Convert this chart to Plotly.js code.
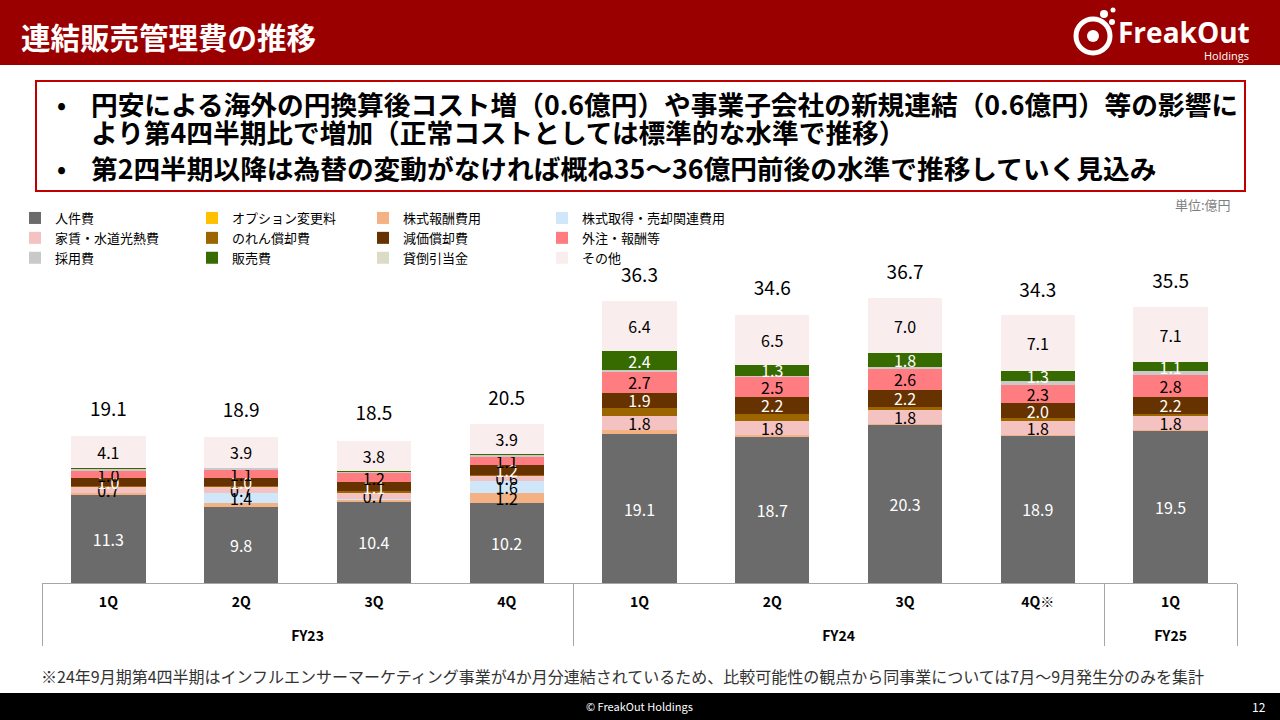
<!DOCTYPE html>
<html><head><meta charset="utf-8">
<script src="https://cdn.plot.ly/plotly-3.0.1.min.js"></script>
<style>html,body{margin:0;padding:0;background:#fff;}#chart{width:1280px;height:720px;}</style>
</head><body><div id="chart"></div>
<script>
// ---- data ----
const fiscalYears = ['FY23','FY23','FY23','FY23','FY24','FY24','FY24','FY24','FY25'];
const quarters = ['1Q','2Q','3Q','4Q','1Q','2Q','3Q','4Q※','1Q'];
const totals = [19.1,18.9,18.5,20.5,36.3,34.6,36.7,34.3,35.5];

const seriesNames = ['人件費','オプション変更料','株式報酬費用','株式取得・売却関連費用',
  '家賃・水道光熱費','のれん償却費','減価償却費','外注・報酬等',
  '採用費','販売費','貸倒引当金','その他'];

const personnel       = [11.3, 9.8,10.4,10.2,19.1,18.7,20.3,18.9,19.5];
const optionChange    = [0.0, 0.0, 0.0, 0.1, 0.0, 0.0, 0.0, 0.0, 0.0];
const stockComp       = [0.3, 0.4, 0.3, 1.2, 0.5, 0.3, 0.1, 0.1, 0.1];
const acquisitionCost = [0.0, 1.4, 0.1, 1.6, 0.0, 0.0, 0.0, 0.0, 0.0];
const rentUtilities   = [0.7, 0.7, 0.7, 0.6, 1.8, 1.8, 1.8, 1.8, 1.8];
const goodwill        = [0.1, 0.1, 0.3, 0.2, 1.1, 0.9, 0.4, 0.3, 0.3];
const depreciation    = [1.0, 1.0, 1.1, 1.2, 1.9, 2.2, 2.2, 2.0, 2.2];
const outsourcing     = [1.0, 1.1, 1.2, 1.1, 2.7, 2.5, 2.6, 2.3, 2.8];
const recruiting      = [0.2, 0.2, 0.1, 0.2, 0.2, 0.2, 0.3, 0.5, 0.5];
const salesCost       = [0.1, 0.1, 0.2, 0.1, 2.4, 1.3, 1.8, 1.3, 1.1];
const badDebt         = [0.0, 0.0, 0.0, 0.0, 0.0, 0.0, 0.0, 0.0, 0.0];
const otherCost       = [4.1, 3.9, 3.8, 3.9, 6.4, 6.5, 7.0, 7.1, 7.1];

const seriesValues = [personnel, optionChange, stockComp, acquisitionCost,
  rentUtilities, goodwill, depreciation, outsourcing,
  recruiting, salesCost, badDebt, otherCost];

// ---- styles ----
const colors = ['#6b6b6b','#ffc000','#f4b183','#cfe7f8',
  '#f5c2c2','#9c6500','#663300','#ff7c80',
  '#c9c9c9','#376b00','#dcdcc6','#faeded'];
const labelShown = [true,false,true,true,true,false,true,true,false,true,false,true];
const labelColor = ['#ffffff','#000','#000','#000','#000','#000','#ffffff','#000','#000','#ffffff','#000','#000'];
// legend laid out as 4 columns (one vertical legend per column)
const legendIds = ['legend','legend2','legend3','legend4'];
const legendLeft = [15, 192, 363, 542];

const FONT = '"Noto Sans CJK JP", "Noto Sans", sans-serif';
// second tick row is pushed down by a blank trailing line on the quarter labels
const xCats = [fiscalYears, quarters.map(q => q + '<br>&nbsp;')];

const traces = seriesValues.map((vals, i) => ({
  type: 'bar',
  name: seriesNames[i],
  x: xCats,
  y: vals,
  marker: {color: colors[i], line: {width: 0}},
  text: vals.map(v => (labelShown[i] && v >= 0.6) ? v.toFixed(1) : ''),
  textposition: 'inside',
  insidetextanchor: 'middle',
  textangle: 0,
  constraintext: 'none',
  textfont: {family: FONT, size: 16, color: labelColor[i]},
  hoverinfo: 'skip',
  legend: legendIds[i % 4]
}));

traces.push({
  type: 'scatter',
  mode: 'markers+text',
  x: xCats,
  y: totals,
  text: totals.map(v => v.toFixed(1)),
  textposition: 'top center',
  textfont: {family: FONT, size: 19, color: '#000'},
  marker: {size: 20, opacity: 0},
  cliponaxis: false,
  showlegend: false,
  hoverinfo: 'skip'
});

// pixel helpers (plot area: x 42..1237, y 276..583)
const PL = 42, PR = 1237, PT = 276, PB = 583;
const YMAX = (PB - PT) / 7.8;   // keeps 7.8 px per 億円
const px = x => (x - PL) / (PR - PL);
const py = y => (PB - y) / (PB - PT);

function ann(text, x, y, opts) {
  return Object.assign({text, x: px(x), y: py(y), xref: 'paper', yref: 'paper',
    showarrow: false, xanchor: 'left', yanchor: 'middle',
    font: {family: FONT, size: 14, color: '#000'}}, opts || {});
}

const annotations = [
  ann('連結販売管理費の推移', 19, 36, {font: {family: FONT, size: 29.5, color: '#fff', weight: 'bold'}}),
  ann('FreakOut', 1116, 32, {font: {family: '"Open Sans", sans-serif', size: 28, color: '#fff', weight: 'bold'}}),
  ann('Holdings', 1251, 56, {xanchor: 'right', font: {family: '"Open Sans", sans-serif', size: 11, color: '#fff'}}),
  ann('•', 55, 103, {font: {family: FONT, size: 24, color: '#000', weight: 'bold'}}),
  ann('円安による海外の円換算後コスト増（0.6億円）や事業子会社の新規連結（0.6億円）等の影響に', 89, 103, {font: {family: FONT, size: 26.7, color: '#000', weight: 'bold'}}),
  ann('より第4四半期比で増加（正常コストとしては標準的な水準で推移）', 89, 131, {font: {family: FONT, size: 26.7, color: '#000', weight: 'bold'}}),
  ann('•', 55, 167, {font: {family: FONT, size: 24, color: '#000', weight: 'bold'}}),
  ann('第2四半期以降は為替の変動がなければ概ね35～36億円前後の水準で推移していく見込み', 89, 167, {font: {family: FONT, size: 26.7, color: '#000', weight: 'bold'}}),
  ann('単位:億円', 1233, 205, {xanchor: 'right', font: {family: FONT, size: 13, color: '#7f7f7f'}}),
  ann('※24年9月期第4四半期はインフルエンサーマーケティング事業が4か月分連結されているため、比較可能性の観点から同事業については7月～9月発生分のみを集計', 39, 676, {font: {family: FONT, size: 16, color: '#333'}}),
  ann('© FreakOut Holdings', 640, 706, {xanchor: 'center', font: {family: FONT, size: 11, color: '#fff'}}),
  ann('12', 1268, 706, {xanchor: 'right', font: {family: FONT, size: 12, color: '#fff'}})
];

function rect(x0, y0, x1, y1, o) {
  return Object.assign({type: 'rect', xref: 'paper', yref: 'paper',
    x0: px(x0), x1: px(x1), y0: py(y1), y1: py(y0), layer: 'below'}, o);
}
function circ(cx, cy, r, o) {
  return Object.assign({type: 'circle', xref: 'paper', yref: 'paper',
    x0: px(cx - r), x1: px(cx + r), y0: py(cy + r), y1: py(cy - r)}, o);
}

const shapes = [
  rect(0, 0, 1280, 65, {fillcolor: '#9b0000', line: {width: 0}}),
  rect(36, 81, 1245, 191, {fillcolor: 'rgba(0,0,0,0)', line: {color: '#c00000', width: 2}}),
  rect(0, 693, 1280, 720, {fillcolor: '#000', line: {width: 0}}),
  // logo mark
  circ(1093, 36, 17, {fillcolor: 'rgba(0,0,0,0)', line: {color: '#fff', width: 5}}),
  circ(1093, 36, 6, {fillcolor: '#fff', line: {width: 0}}),
  circ(1104, 14, 4, {fillcolor: '#fff', line: {width: 0}}),
  circ(1112, 22, 3, {fillcolor: '#fff', line: {width: 0}}),
  circ(1113, 10, 2.5, {fillcolor: '#fff', line: {width: 0}})
];

// x in plot-area (paper) fraction, y in container fraction -> no horizontal margin push
function legendAt(left) {
  return {
    orientation: 'v', xref: 'paper', yref: 'container',
    xanchor: 'left', yanchor: 'top', x: px(left), y: 1 - 203 / 720,
    traceorder: 'normal', tracegroupgap: 0,
    bgcolor: 'rgba(0,0,0,0)', itemclick: false,
    font: {family: FONT, size: 13, color: '#000'}
  };
}

const layout = {
  width: 1280, height: 720,
  margin: {l: PL, r: 1280 - PR, t: PT, b: 720 - PB, pad: 0},
  paper_bgcolor: '#fff', plot_bgcolor: '#fff',
  barmode: 'stack', bargap: 0.44,
  showlegend: true,
  legend: legendAt(legendLeft[0]),
  legend2: legendAt(legendLeft[1]),
  legend3: legendAt(legendLeft[2]),
  legend4: legendAt(legendLeft[3]),
  xaxis: {
    type: 'multicategory', range: [-0.5, 8.5],
    showdividers: true, dividercolor: '#a6a6a6', dividerwidth: 1,
    showline: true, linecolor: '#a6a6a6', linewidth: 1, ticks: '', showgrid: false,
    ticklabelstandoff: 6,
    tickfont: {family: FONT, size: 14, color: '#000', weight: 'bold'}
  },
  yaxis: {range: [0, YMAX], visible: false, showgrid: false, zeroline: false},
  annotations, shapes,
  font: {family: FONT}
};

Plotly.newPlot('chart', traces, layout, {displayModeBar: false, staticPlot: true});
</script>
</body></html>
